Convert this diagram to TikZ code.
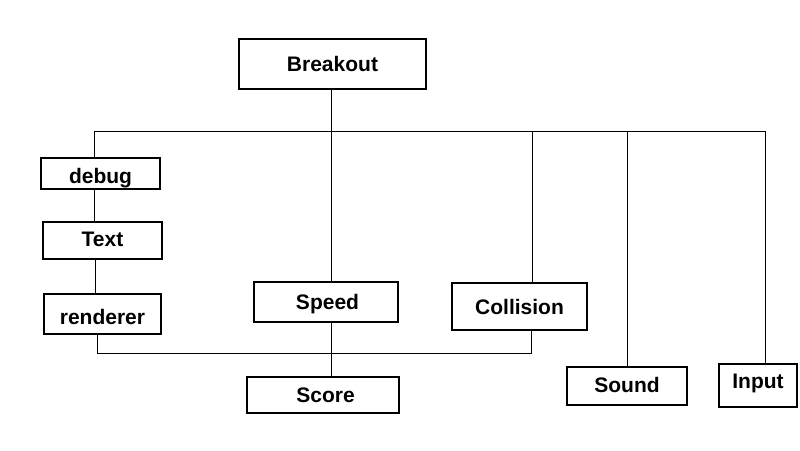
\documentclass[tikz,border=0pt]{standalone}
\usepackage{fontspec}
\setmainfont{Liberation Sans}
\begin{document}
\begin{tikzpicture}[x=1pt,y=-1pt,
  box/.style={draw=black, line width=1.1pt, rectangle, inner sep=0pt, outer sep=0pt,
    font=\fontsize{21}{24}\bfseries\selectfont, text height=15pt, text depth=0pt},
  wire/.style={draw=black, line width=1.1pt}]
\useasboundingbox[fill=white] (0,0) rectangle (800,450);
% boxes
\node[box, minimum width=187pt, minimum height=50pt] (breakout) at (332.5,64) {Breakout};
\node[box, minimum width=119pt, minimum height=31pt, text height=20pt] (debug) at (100.5,173.5) {debug\hspace{10pt}};
\node[box, minimum width=119pt, minimum height=37pt, text depth=3pt] (text) at (102.5,240.5) {Text\hspace{20pt}};
\node[box, minimum width=117pt, minimum height=40pt, text height=21pt] (renderer) at (102.5,314) {renderer\hspace{5pt}};
\node[box, minimum width=144pt, minimum height=40pt] (speed) at (326,302) {\hspace{3pt}Speed};
\node[box, minimum width=135pt, minimum height=47pt] (collision) at (519.5,306.5) {Collision\hspace{4pt}};
\node[box, minimum width=152pt, minimum height=36pt] (score) at (323,395) {\hspace{5pt}Score};
\node[box, minimum width=120pt, minimum height=38pt, text depth=3pt] (sound) at (627,386) {Sound\hspace{9pt}};
\node[box, minimum width=78pt, minimum height=43pt, text depth=10pt] (input) at (758,385.5) {Input\hspace{8pt}};
% junction coordinates
\coordinate (busL) at (94.5,131.5);
\coordinate (busR) at (765.5,131.5);
\coordinate (jB) at (331.5,131.5);
\coordinate (jC) at (532.5,131.5);
\coordinate (jS) at (627.5,131.5);
\coordinate (lowL) at (97.5,353.5);
\coordinate (lowR) at (531.5,353.5);
% connectors
\draw[wire] (jB |- breakout.south) -- (jB);
\draw[wire] (busL |- debug.north) -- (busL) -- (busR) -- (busR |- input.north);
\draw[wire] (jB) -- (jB |- speed.north);
\draw[wire] (jB |- speed.south) -- (jB |- score.north);
\draw[wire] (jC) -- (jC |- collision.north);
\draw[wire] (jS) -- (jS |- sound.north);
\draw[wire] (busL |- debug.south) -- (busL |- text.north);
\draw[wire] ([xshift=1pt]busL |- text.south) -- ([xshift=1pt]busL |- renderer.north);
\draw[wire] (lowL |- renderer.south) -- (lowL) -- (lowR) -- (lowR |- collision.south);
\end{tikzpicture}
\end{document}
